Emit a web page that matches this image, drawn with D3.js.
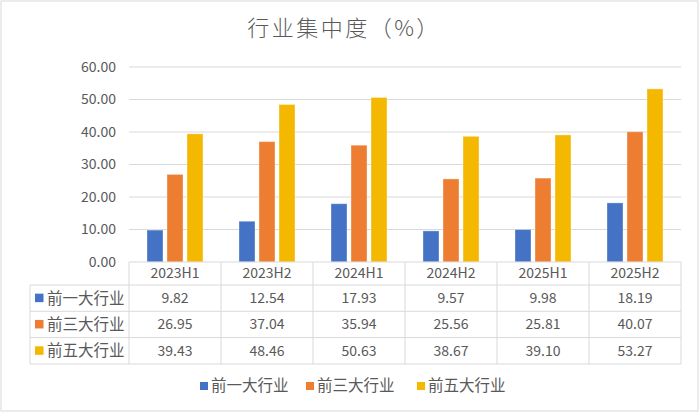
<!DOCTYPE html>
<html>
<head>
<meta charset="utf-8">
<script src="https://cdn.jsdelivr.net/npm/d3@7"></script>
<style>
  body { margin: 0; background: #fff; }
  text { font-family: "Noto Sans CJK SC", "Noto Sans", sans-serif; fill: #595959; }
</style>
</head>
<body>
<div id="chart-container"></div>
<script>
// data
const categories = ["2023H1", "2023H2", "2024H1", "2024H2", "2025H1", "2025H2"];
const seriesNames = ["前一大行业", "前三大行业", "前五大行业"];
const top1 = [9.82, 12.54, 17.93, 9.57, 9.98, 18.19];
const top3 = [26.95, 37.04, 35.94, 25.56, 25.81, 40.07];
const top5 = [39.43, 48.46, 50.63, 38.67, 39.10, 53.27];
const yTicks = [0, 10, 20, 30, 40, 50, 60];
const colors = ["#4472C4", "#ED7D31", "#F4B800"];

const seriesValues = [top1, top3, top5];

const width = 700, height = 413;
const plot = { left: 129, right: 681, top: 67, bottom: 262 };

const svg = d3.select("#chart-container")
    .append("svg")
    .attr("width", width)
    .attr("height", height);

// chart border
svg.append("rect")
    .attr("x", 1).attr("y", 1)
    .attr("width", width - 3).attr("height", height - 3)
    .attr("fill", "#fff")
    .attr("stroke", "#D9D9D9");

// title
svg.append("text")
    .attr("x", 344).attr("y", 36)
    .attr("text-anchor", "middle")
    .style("font-size", "22px")
    .style("font-weight", 300)
    .style("letter-spacing", "2.5px")
    .text("行业集中度（%）");

// scales
const xScale = d3.scaleBand()
    .domain(categories)
    .range([plot.left, plot.right]);

const xSub = d3.scaleBand()
    .domain(seriesNames)
    .range([18, xScale.bandwidth() - 18])
    .paddingInner(0.2);

const yScale = d3.scaleLinear()
    .domain([0, 60])
    .range([plot.bottom, plot.top]);

// gridlines
svg.append("g")
    .selectAll("line")
    .data(yTicks.slice(1))
    .enter()
    .append("line")
    .attr("x1", plot.left).attr("x2", plot.right)
    .attr("y1", d => yScale(d)).attr("y2", d => yScale(d))
    .attr("stroke", "#D9D9D9")
    .attr("stroke-width", 1);

// y labels
svg.append("g")
    .selectAll("text")
    .data(yTicks)
    .enter()
    .append("text")
    .attr("x", 116)
    .attr("y", d => yScale(d))
    .attr("dy", "0.35em")
    .attr("text-anchor", "end")
    .style("font-size", "14px")
    .text(d => d3.format(".2f")(d));

// bars
const groups = svg.append("g")
    .selectAll("g")
    .data(seriesNames)
    .enter()
    .append("g")
    .attr("fill", (d, i) => colors[i]);

groups.selectAll("rect")
    .data((name, i) => seriesValues[i].map((v, j) => ({ name, cat: categories[j], v })))
    .enter()
    .append("rect")
    .attr("x", d => xScale(d.cat) + xSub(d.name))
    .attr("width", xSub.bandwidth())
    .attr("y", d => yScale(d.v))
    .attr("height", d => plot.bottom - yScale(d.v))
    .attr("stroke", "#fff")
    .attr("stroke-opacity", 0.35)
    .attr("stroke-width", 1);

// data table
const table = svg.append("g");
const tableLeft = 30;
const lineColor = "#D9D9D9";
const rowTops = [plot.bottom, 285, 311.3, 337.6];
const rowBottom = 364;

// horizontal lines
table.append("line")
    .attr("x1", plot.left).attr("x2", plot.right)
    .attr("y1", plot.bottom).attr("y2", plot.bottom)
    .attr("stroke", lineColor);
rowTops.slice(1).concat([rowBottom]).forEach(y => {
    table.append("line")
        .attr("x1", tableLeft).attr("x2", plot.right)
        .attr("y1", y).attr("y2", y)
        .attr("stroke", lineColor);
});

// vertical lines
table.append("line")
    .attr("x1", tableLeft).attr("x2", tableLeft)
    .attr("y1", rowTops[1]).attr("y2", rowBottom)
    .attr("stroke", lineColor);
d3.range(categories.length + 1).forEach(i => {
    const x = plot.left + i * xScale.bandwidth();
    table.append("line")
        .attr("x1", x).attr("x2", x)
        .attr("y1", plot.bottom).attr("y2", rowBottom)
        .attr("stroke", lineColor);
});

// header labels
table.selectAll(".cat")
    .data(categories)
    .enter()
    .append("text")
    .attr("class", "cat")
    .attr("x", d => xScale(d) + xScale.bandwidth() / 2)
    .attr("y", (rowTops[0] + rowTops[1]) / 2)
    .attr("dy", "0.35em")
    .attr("text-anchor", "middle")
    .style("font-size", "14px")
    .text(d => d);

// series rows
seriesNames.forEach((name, i) => {
    const yMid = (rowTops[i + 1] + (i < 2 ? rowTops[i + 2] : rowBottom)) / 2;
    table.append("rect")
        .attr("x", 35).attr("y", yMid - 4.5)
        .attr("width", 8.5).attr("height", 8.5)
        .attr("fill", colors[i]);
    table.append("text")
        .attr("x", 47).attr("y", yMid)
        .attr("dy", "0.35em")
        .style("font-size", "15.5px")
        .text(name);
    table.selectAll(".v" + i)
        .data(seriesValues[i])
        .enter()
        .append("text")
        .attr("x", (d, j) => xScale(categories[j]) + xScale.bandwidth() / 2)
        .attr("y", yMid)
        .attr("dy", "0.35em")
        .attr("text-anchor", "middle")
        .style("font-size", "14px")
        .text(d => d3.format(".2f")(d));
});

// legend
const legendX = [200, 306, 417];
const legend = svg.append("g")
    .selectAll("g")
    .data(seriesNames)
    .enter()
    .append("g")
    .attr("transform", (d, i) => `translate(${legendX[i]},386)`);
legend.append("rect")
    .attr("x", 0).attr("y", -4)
    .attr("width", 8).attr("height", 8)
    .attr("fill", (d, i) => colors[i]);
legend.append("text")
    .attr("x", 11).attr("y", 0)
    .attr("dy", "0.35em")
    .style("font-size", "15.5px")
    .text(d => d);
</script>
</body>
</html>
